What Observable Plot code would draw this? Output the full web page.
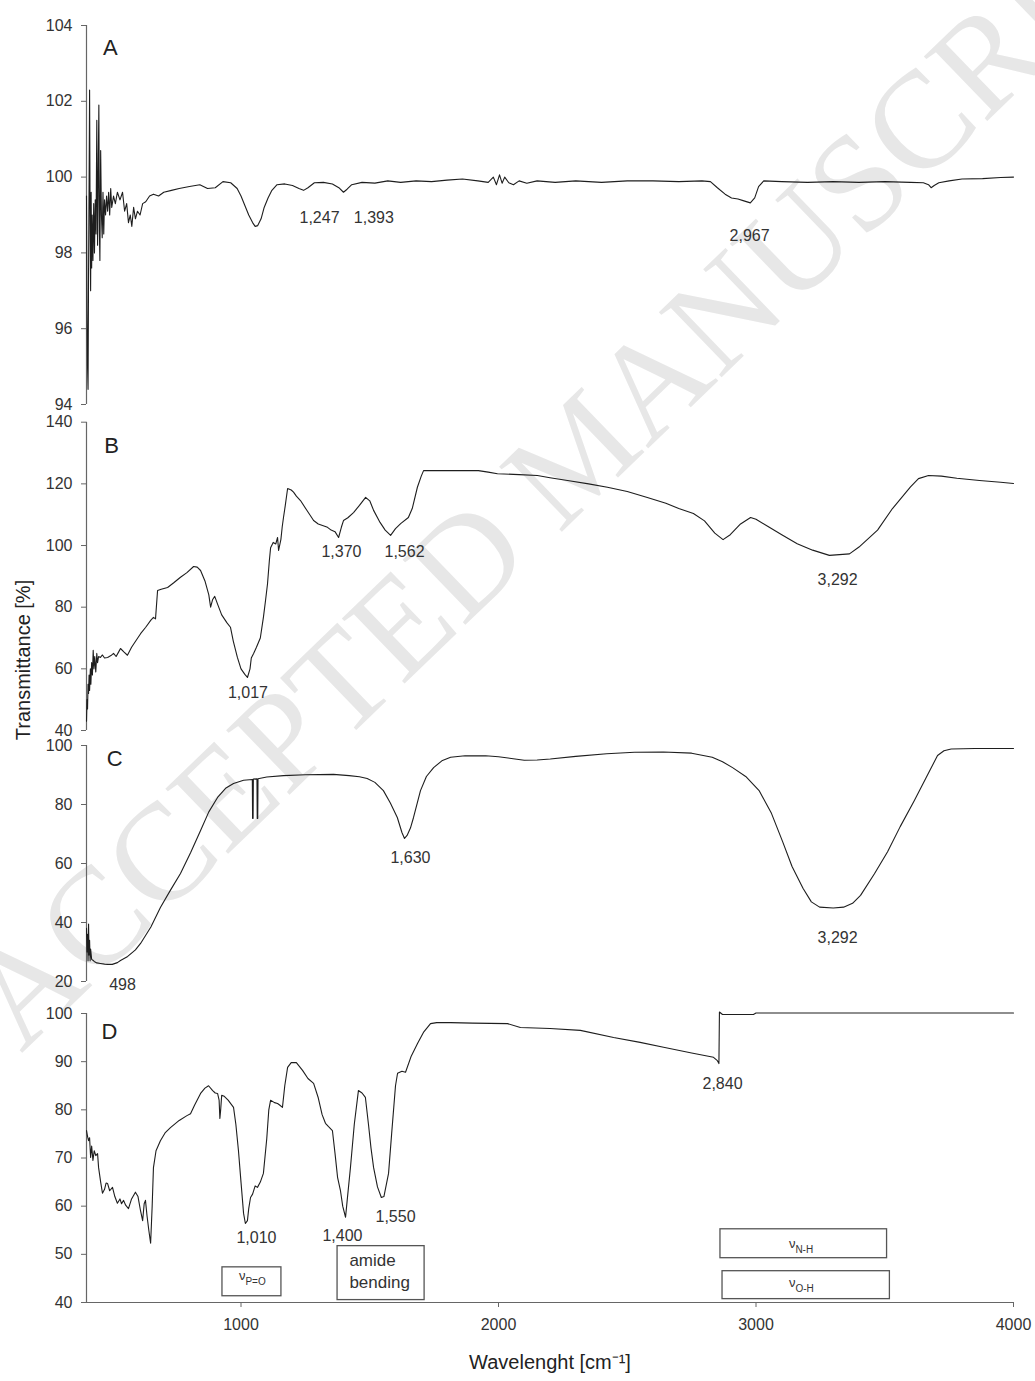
<!DOCTYPE html>
<html><head><meta charset="utf-8">
<script src="https://cdn.jsdelivr.net/npm/d3@7"></script>
<script src="https://cdn.jsdelivr.net/npm/@observablehq/plot@0.6"></script>
<style>
body{margin:0;background:#fff;}
#wrap{position:relative;width:1035px;height:1381px;overflow:hidden;font-family:"Liberation Sans",Arial,sans-serif;background:#fff;}
#wm{position:absolute;left:578px;top:452px;transform:translate(-50%,-50%) rotate(-44deg);font-family:"Liberation Serif","DejaVu Serif",serif;font-size:138px;color:#e7e7e7;white-space:nowrap;line-height:1;}
#ylab{position:absolute;left:23px;top:660px;transform:translate(-50%,-50%) rotate(-90deg);font-size:20px;color:#222;white-space:nowrap;}
</style></head><body><div id="wrap"><div id="wm">ACCEPTED MANUSCRIPT</div></div>
<script>
// ---------- data ----------
const xTicks = [1000, 2000, 3000, 4000];
const yTicksA = [94, 96, 98, 100, 102, 104];
const yTicksB = [40, 60, 80, 100, 120, 140];
const yTicksC = [20, 40, 60, 80, 100];
const yTicksD = [40, 50, 60, 70, 80, 90, 100];

// [wavenumber, transmittance]
const spectrumA = [[400,99.5],[402,96.5],[404,95.0],[406,94.4],[408,97.5],[410,99.8],[412,102.3],[414,98.8],[416,97.0],[418,99.6],[420,97.6],[422,99.0],[425,97.8],[428,99.3],[431,98.0],[434,99.4],[437,98.5],[440,101.5],[443,98.2],[446,100.5],[448,101.9],[450,98.6],[452,97.8],[455,100.7],[458,99.0],[461,98.4],[464,99.6],[467,98.5],[470,99.4],[474,99.0],[478,99.5],[482,99.1],[486,99.6],[490,99.0],[494,99.7],[498,99.2],[505,99.5],[512,99.3],[520,99.6],[530,99.4],[540,99.6],[548,99.1],[556,99.3],[563,98.8],[570,99.0],[576,98.7],[583,99.2],[590,98.9],[598,99.1],[608,99.0],[618,99.3],[630,99.35],[645,99.5],[660,99.55],[680,99.5],[700,99.6],[730,99.65],[760,99.7],[800,99.75],[840,99.8],[870,99.7],[900,99.72],[930,99.88],[960,99.85],[985,99.7],[1000,99.5],[1015,99.25],[1030,99.0],[1045,98.8],[1055,98.7],[1065,98.72],[1078,98.9],[1090,99.2],[1105,99.45],[1120,99.65],[1140,99.8],[1170,99.82],[1200,99.78],[1225,99.7],[1243,99.65],[1260,99.72],[1285,99.85],[1320,99.86],[1355,99.82],[1380,99.72],[1398,99.6],[1412,99.68],[1430,99.8],[1470,99.86],[1520,99.84],[1570,99.9],[1620,99.86],[1680,99.9],[1740,99.88],[1800,99.92],[1860,99.95],[1920,99.9],[1960,99.86],[1980,100.0],[1992,99.8],[2004,100.06],[2014,99.84],[2024,100.0],[2040,99.85],[2058,99.8],[2080,99.9],[2110,99.84],[2150,99.9],[2220,99.86],[2300,99.9],[2400,99.86],[2500,99.9],[2600,99.9],[2700,99.88],[2790,99.9],[2823,99.88],[2850,99.72],[2880,99.55],[2905,99.45],[2930,99.42],[2950,99.38],[2978,99.32],[2995,99.45],[3010,99.75],[3030,99.9],[3100,99.88],[3200,99.86],[3300,99.88],[3400,99.86],[3500,99.88],[3600,99.86],[3650,99.85],[3670,99.8],[3680,99.72],[3692,99.78],[3710,99.85],[3750,99.9],[3800,99.95],[3880,99.96],[3950,99.99],[4000,100.0]];

const spectrumB = [[400,43],[402,50],[404,47],[406,55],[408,52],[410,58],[412,53],[415,60],[417,55],[420,62],[423,58],[426,66],[429,60],[432,64],[436,59],[440,65],[443,62],[447,64],[454,63.7],[462,64.5],[470,63.5],[482,63.7],[495,64.3],[505,65],[515,64],[525,65.5],[532,66.6],[545,65.5],[559,64.4],[575,67],[595,69.5],[610,71.4],[630,73.5],[650,75.8],[660,76.7],[668,76.2],[676,85.4],[690,85.8],[715,86.4],[740,88],[765,89.7],[790,91.2],[816,93.2],[830,93],[843,91.9],[860,88.5],[875,84],[882,80],[890,82.5],[898,83.5],[909,81],[925,77.5],[945,75],[959,73.5],[970,69],[986,63.7],[1000,60],[1015,58.2],[1025,57.2],[1035,60],[1040,63.5],[1049,65],[1060,67],[1075,70],[1087,76.7],[1095,82],[1103,87.6],[1110,95],[1115,99.3],[1125,101],[1135,100.5],[1142,102.6],[1146,98.4],[1155,102],[1160,106],[1165,109.1],[1172,113],[1181,118.5],[1195,118],[1204,117.3],[1215,116],[1231,114.6],[1255,111.5],[1282,108.1],[1300,107],[1336,105.9],[1350,105],[1365,104.5],[1379,102.6],[1390,106],[1398,108.1],[1415,109],[1437,110.7],[1460,113],[1484,115.6],[1500,114.5],[1515,111.4],[1540,107.5],[1560,105],[1581,103.3],[1600,105.5],[1620,107.1],[1650,109.1],[1665,112],[1685,118.9],[1700,122.5],[1709,124.3],[1800,124.3],[1922,124.3],[1960,123.8],[1996,123.3],[2080,123],[2151,122.7],[2200,122],[2268,121.1],[2350,120],[2423,118.9],[2500,117.5],[2578,115.6],[2650,113.7],[2700,112],[2757,110.4],[2800,108],[2840,104],[2872,101.9],[2900,103.5],[2940,107],[2979,109.1],[3000,108.5],[3050,106],[3100,103.5],[3160,100.6],[3220,98.5],[3285,96.8],[3363,97.3],[3400,99.5],[3472,105],[3530,112],[3600,119],[3631,121.7],[3670,122.7],[3720,122.5],[3780,121.8],[3868,121.1],[3950,120.5],[4000,120.1]];

const spectrumC = [[400,38],[402,30],[404,36],[406,27],[408,39.5],[410,29],[412,34],[414,27],[416,31],[420,27.5],[425,27.2],[430,26.8],[440,26.3],[454,26.1],[470,25.9],[482,25.8],[500,25.8],[520,26.4],[532,27.1],[560,28.5],[590,30.7],[610,32.9],[650,38.5],[687,45.1],[725,50.8],[765,56.6],[805,63.8],[843,71.2],[875,77.5],[909,82.4],[940,85.5],[971,87.1],[1010,88.2],[1044,88.5],[1045,75.3],[1047,75.3],[1048,88.6],[1062,88.7],[1063,75.3],[1065,75.3],[1066,88.7],[1100,89.3],[1165,89.8],[1250,90.1],[1359,90.2],[1420,89.8],[1460,89.4],[1490,88.8],[1520,87.5],[1553,84.7],[1580,80.5],[1607,75.6],[1625,70.5],[1635,68.5],[1645,69.5],[1658,72],[1670,75.6],[1697,84.7],[1720,89.5],[1748,92.5],[1780,94.8],[1814,96],[1870,96.5],[1950,96.5],[2000,96.2],[2050,95.6],[2100,95.0],[2150,95.1],[2201,95.4],[2300,96.3],[2420,97.2],[2528,97.7],[2640,97.8],[2750,97.4],[2830,96],[2870,94.5],[2909,92.5],[2960,89.5],[3013,84.6],[3060,77],[3103,67.5],[3140,59],[3183,51.5],[3215,47],[3247,45.2],[3300,44.9],[3340,45.2],[3375,46.5],[3406,49.2],[3460,56.5],[3511,64],[3560,72.5],[3614,81.2],[3660,89],[3705,96.6],[3730,98.2],[3758,98.8],[3850,99],[4000,99]];

const spectrumD = [[400,75.7],[404,74.5],[408,73.6],[412,74.2],[416,70.1],[420,72.5],[425,69.5],[430,71.5],[436,70.5],[443,70.9],[447,68],[455,65],[462,62.7],[470,63.5],[476,64.8],[482,64.7],[490,63.2],[501,63.9],[510,62],[520,60.6],[530,61.5],[536,60.5],[544,61.2],[552,60.2],[563,59.5],[575,61.5],[590,62.9],[600,62],[610,59],[618,57],[624,60.5],[629,61.2],[635,58],[642,55],[649,52.3],[655,60],[660,68],[670,71.5],[687,73.6],[705,75.2],[726,76.3],[760,77.8],[790,78.8],[804,79.2],[820,81],[843,83.4],[860,84.5],[874,85],[890,84],[900,83.5],[909,83.4],[915,82],[918,78.2],[921,80],[925,83],[935,82.8],[950,82],[971,80.5],[980,77],[990,71.6],[1000,65],[1010,58.5],[1017,56.4],[1025,57],[1030,59.5],[1037,61.8],[1045,62.5],[1055,64.2],[1064,63.9],[1075,65],[1087,66.8],[1100,74],[1108,80],[1115,82],[1130,81.5],[1142,81.3],[1150,81],[1161,80.5],[1170,85],[1181,88.8],[1195,89.8],[1215,89.8],[1239,88.2],[1260,86.5],[1282,85.5],[1300,82.5],[1315,79],[1328,77.2],[1340,76.5],[1355,75.7],[1365,71],[1375,66],[1386,63.3],[1395,60],[1406,57.7],[1412,61],[1425,68],[1440,77],[1456,84],[1470,83.5],[1483,82.6],[1495,77],[1505,72],[1515,68],[1530,64],[1545,61.8],[1555,62],[1573,66.8],[1585,75],[1600,85],[1608,87.6],[1625,88],[1639,87.8],[1660,91],[1686,93.8],[1710,96.2],[1736,97.9],[1760,98.1],[1814,98.1],[1900,98],[2035,97.9],[2085,97.1],[2200,96.9],[2318,96.5],[2447,95],[2550,94],[2641,93],[2750,91.8],[2835,90.9],[2850,90.2],[2856,89.6],[2858,100.3],[2870,99.8],[2950,99.8],[2990,99.8],[3000,100.1],[3200,100.1],[3500,100.1],[4000,100.1]];

// peak labels [text, wavenumber, transmittance]
const peaksA = [["1,247", 1305, 98.93], ["1,393", 1516, 98.93], ["2,967", 2975, 98.46]];
const peaksB = [["1,017", 1027, 52.1], ["1,370", 1390, 97.8], ["1,562", 1635, 97.8], ["3,292", 3317, 88.9]];
const peaksC = [["498", 540, 19.0], ["1,630", 1658, 62.0], ["3,292", 3317, 34.9]];
const peaksD = [["1,010", 1060, 53.5], ["1,400", 1394, 53.9], ["1,550", 1600, 57.7], ["2,840", 2870, 85.3]];
const panelLetters = [["A", 493, 103.4], ["B", 497, 132.4], ["C", 509, 95.6], ["D", 489, 96.1]];

// band assignment boxes (panel D)
const bandBoxes = [
  {sym: "ν", sub: "P=O", x1: 928, x2: 1157, y1: 41.3, y2: 47.3, tx: 1017, ty: 45.0},
  {sym: "ν", sub: "N-H", x1: 2862, x2: 3509, y1: 49.2, y2: 55.2, tx: 3153, ty: 51.6},
  {sym: "ν", sub: "O-H", x1: 2870, x2: 3520, y1: 40.7, y2: 46.5, tx: 3153, ty: 43.4}
];
const amideBox = {text: "amide\nbending", x1: 1375, x2: 1713, y1: 40.5, y2: 51.7, tx: 1421, ty: 46.7};

// ---------- drawing ----------
const FONT = '"Liberation Sans", Arial, sans-serif';
const wrap = document.getElementById("wrap");
const LINE = "#1e1e1e", AXIS = "#666", TXT = "#333";

function makePanel(o) {
  const marks = [
    Plot.ruleX([400], {stroke: AXIS, strokeWidth: 1.2}),
    Plot.axisY({ticks: o.yTicks, tickSize: 5, tickPadding: 9, label: null, stroke: AXIS, fill: TXT, fontSize: 16, tickFormat: d => String(d)}),
    Plot.line(o.data, {x: d => d[0], y: d => d[1], stroke: LINE, strokeWidth: 1.1}),
    Plot.text(o.peaks, {x: d => d[1], y: d => d[2], text: d => d[0], fill: TXT, fontSize: 16}),
    Plot.text([o.letter], {x: d => d[1], y: d => d[2], text: d => d[0], fill: "#222", fontSize: 22}),
    ...(o.extra || [])
  ];
  const p = Plot.plot({
    width: 1035, height: o.h,
    marginLeft: 86, marginRight: 22, marginTop: o.mt, marginBottom: o.mb,
    style: {background: "transparent", fontFamily: FONT, fontSize: "16px", color: TXT, overflow: "visible"},
    x: {domain: [400, 4000], axis: null},
    y: {domain: o.yDomain, axis: null},
    marks
  });
  p.style.position = "absolute";
  p.style.left = "0px";
  p.style.top = o.top + "px";
  wrap.appendChild(p);
}

makePanel({data: spectrumA, yDomain: [94, 104], yTicks: yTicksA, peaks: peaksA, letter: panelLetters[0], top: 0, h: 413, mt: 25, mb: 9});
makePanel({data: spectrumB, yDomain: [40, 140], yTicks: yTicksB, peaks: peaksB, letter: panelLetters[1], top: 413, h: 324, mt: 8.7, mb: 7});
makePanel({data: spectrumC, yDomain: [20, 100], yTicks: yTicksC, peaks: peaksC, letter: panelLetters[2], top: 737, h: 260, mt: 8, mb: 16});
makePanel({data: spectrumD, yDomain: [40, 100], yTicks: yTicksD, peaks: peaksD, letter: panelLetters[3], top: 997, h: 384, mt: 16, mb: 79,
  extra: [
    Plot.ruleY([40], {stroke: AXIS, strokeWidth: 1.2}),
    Plot.axisX({ticks: xTicks, tickSize: 5, tickPadding: 11, label: null, stroke: AXIS, fill: TXT, fontSize: 16, tickFormat: d => String(d)}),
    Plot.rect(bandBoxes, {x1: "x1", x2: "x2", y1: "y1", y2: "y2", fill: "white", stroke: "#555", strokeWidth: 1.3}),
    Plot.rect([amideBox], {x1: "x1", x2: "x2", y1: "y1", y2: "y2", fill: "white", stroke: "#555", strokeWidth: 1.3}),
    Plot.text(bandBoxes, {x: "tx", y: "ty", text: "sym", textAnchor: "end", dy: -3, fontSize: 13, fill: TXT}),
    Plot.text(bandBoxes, {x: "tx", y: "ty", text: "sub", textAnchor: "start", dy: 3, fontSize: 10, fill: TXT}),
    Plot.text([amideBox], {x: "tx", y: "ty", text: "text", textAnchor: "start", lineHeight: 1.25, fontSize: 17, fill: TXT}),
    Plot.text(["Wavelenght [cm⁻¹]"], {frameAnchor: "bottom", dy: 66, fontSize: 20, fill: "#222"})
  ]});

const yl = document.createElement("div");
yl.id = "ylab";
yl.textContent = "Transmittance [%]";
wrap.appendChild(yl);
</script></body></html>
